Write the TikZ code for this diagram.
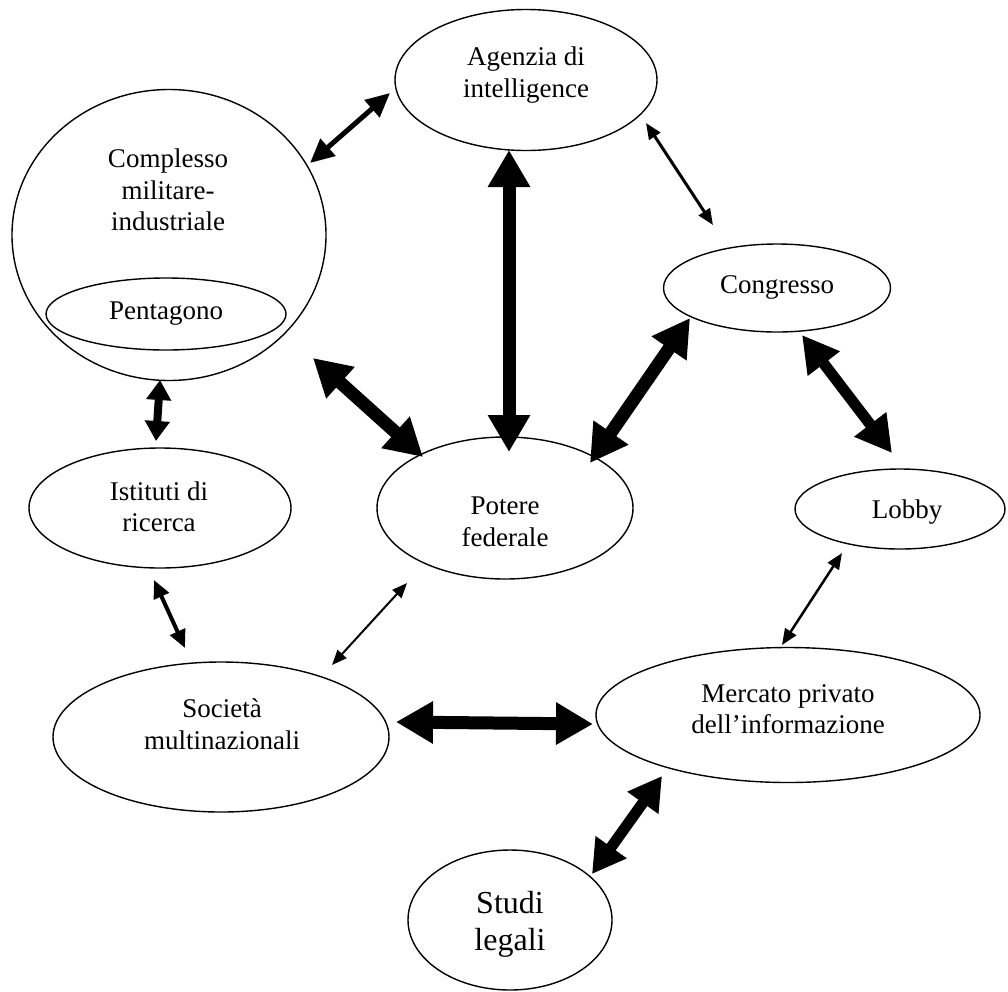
\documentclass[tikz,border=0pt]{standalone}
\usepackage{fontspec}
\setmainfont{Liberation Serif}
\usetikzlibrary{shapes.geometric,arrows.meta}

\begin{document}
\begin{tikzpicture}[x=1pt,y=-1pt,
  oval/.style={draw, ellipse, line width=1.4pt, inner sep=0pt},
  lbl/.style={align=center, inner sep=0pt, font=\fontsize{27}{31.5}\selectfont},
  lblbig/.style={align=center, inner sep=0pt, font=\fontsize{32}{37}\selectfont},
  link/.style n args={3}{line width=#1,
    {Triangle[length=#2,width=#3]}-{Triangle[length=#2,width=#3]}},
]
\useasboundingbox (0,0) rectangle (1008,991);

% actors
\node[oval, minimum width=262pt, minimum height=141pt] (agz) at (526,80) {};
\node[oval, minimum width=314pt, minimum height=291pt] (cmi) at (169,235) {};
\node[oval, minimum width=240pt, minimum height=72pt]  (pen) at (166,314) {};
\node[oval, minimum width=227pt, minimum height=88pt]  (cgr) at (777,288) {};
\node[oval, minimum width=210pt, minimum height=80pt]  (lob) at (900,509) {};
\node[oval, minimum width=262pt, minimum height=120pt] (ist) at (160,508) {};
\node[oval, minimum width=256pt, minimum height=142pt] (pot) at (505,508) {};
\node[oval, minimum width=336pt, minimum height=150pt] (soc) at (221,737) {};
\node[oval, minimum width=384pt, minimum height=135pt] (mer) at (788,715) {};
\node[oval, minimum width=204pt, minimum height=140pt] (stu) at (510,920) {};

% labels
\node[lbl] (agz-t) at (526,75)  {Agenzia di\\intelligence};
\node[lbl] (cmi-t) at (168,190) {Complesso\\militare-\\industriale};
\node[lbl] (pen-t) at (166,314) {Pentagono};
\node[lbl] (cgr-t) at (777,287) {Congresso};
\node[lbl] (lob-t) at (907,512) {Lobby};
\node[lbl] (ist-t) at (159,507) {Istituti di\\ricerca};
\node[lbl] (pot-t) at (505,522) {Potere\\federale};
\node[lbl] (soc-t) at (222,724) {Società\\multinazionali};
\node[lbl] (mer-t) at (788,709) {Mercato privato\\dell’informazione};
\node[lblbig] (stu-t) at (510,924) {Studi\\legali};

% arrow ends
\coordinate (a1) at (310,163); \coordinate (b1) at (390,93);
\coordinate (a2) at (509,150); \coordinate (b2) at (509,452);
\coordinate (a3) at (313,358); \coordinate (b3) at (423,457);
\coordinate (a4) at (590,463); \coordinate (b4) at (690,318);
\coordinate (a5) at (646,123); \coordinate (b5) at (713,225);
\coordinate (a6) at (802,335); \coordinate (b6) at (892,453);
\coordinate (a7) at (160,380); \coordinate (b7) at (156,441);
\coordinate (a8) at (154,580); \coordinate (b8) at (185,648);
\coordinate (a9) at (407,583); \coordinate (b9) at (332,665);
\coordinate (a10) at (396,722); \coordinate (b10) at (593,724);
\coordinate (a11) at (842,553); \coordinate (b11) at (782,645);
\coordinate (a12) at (662,776); \coordinate (b12) at (592,874);

% relations
\draw[link={5pt}{24pt}{22pt}]   (a1) -- (b1);
\draw[link={13pt}{37pt}{40pt}]  (a2) -- (b2);
\draw[link={13pt}{37pt}{40pt}]  (a3) -- (b3);
\draw[link={13pt}{37pt}{40pt}]  (a4) -- (b4);
\draw[link={3pt}{16pt}{13pt}]   (a5) -- (b5);
\draw[link={11pt}{36pt}{38pt}]  (a6) -- (b6);
\draw[link={8pt}{20pt}{24pt}]   (a7) -- (b7);
\draw[link={4pt}{18pt}{16pt}]   (a8) -- (b8);
\draw[link={2pt}{15pt}{12pt}]   (a9) -- (b9);
\draw[link={13pt}{37pt}{40pt}]  (a10) -- (b10);
\draw[link={2.5pt}{16pt}{13pt}] (a11) -- (b11);
\draw[link={11pt}{33pt}{36pt}]  (a12) -- (b12);
\end{tikzpicture}
\end{document}
